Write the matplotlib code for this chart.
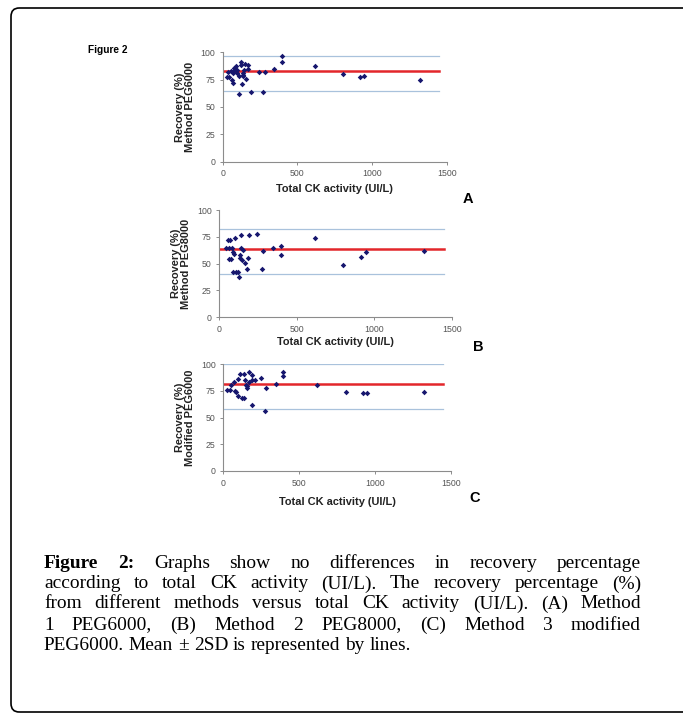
import numpy as np
import matplotlib
matplotlib.use("Agg")
import matplotlib.pyplot as plt
from matplotlib.patches import FancyBboxPatch

# ---- data ----
x_a = [27, 45, 38, 54, 60, 72, 72, 76, 83, 89, 94, 98, 112, 112, 123, 123, 128, 134, 134,
       139, 143, 150, 157, 168, 172, 188, 246, 273, 284, 347, 396, 396, 620, 809, 917, 944, 1324]
y_a = [77, 77, 82, 83, 75, 72, 81, 86, 84, 87, 84, 81, 78, 62, 91, 88, 71, 81, 79,
       78, 84, 89, 76, 88, 85, 64, 82, 64, 82, 85, 97, 91, 87, 80, 77, 78, 75]

x_b = [43, 54, 65, 69, 65, 75, 80, 86, 95, 101, 90, 108, 123, 129, 133, 133, 138, 138,
       144, 155, 166, 176, 187, 194, 245, 273, 284, 344, 396, 396, 618, 800, 917, 944, 1324]
y_b = [64.7, 72.5, 64.7, 72.5, 54.7, 54.7, 64.7, 61, 59.4, 74, 42, 42, 42, 37.5, 57.8, 55.6, 76.6, 64.7,
       53, 63, 51, 44.7, 55.6, 76.3, 77.2, 44.7, 62, 64.7, 66, 57.8, 74, 48.8, 56.5, 60.6, 61.8]

x_c = [27, 45, 54, 72, 76, 83, 94, 98, 112, 123, 134, 139, 143, 150, 157, 157, 168, 172,
       188, 188, 188, 210, 246, 273, 284, 347, 396, 396, 620, 809, 917, 944, 1324]
y_c = [76, 76, 81, 83, 75, 74, 70.6, 86.4, 91, 68, 91, 68, 85, 81, 79.5, 78, 83, 93,
       85, 89.6, 61.5, 85, 87, 56, 78, 81.5, 92.5, 89, 81, 73.8, 73.1, 73.1, 74]

# mean, upper (+2SD), lower (-2SD)
lines_a = [83.3, 96.8, 65.0]
lines_b = [63.4, 82.0, 40.0]
lines_c = [82.0, 100.0, 58.0]

line_span = [0, 1450]
panel_names = ["Method PEG6000", "Method PEG8000", "Modified PEG6000"]
panel_letters = ["A", "B", "C"]

caption = [
    [("Figure", True), ("2:", True), ("Graphs", False), ("show", False), ("no", False),
     ("differences", False), ("in", False), ("recovery", False), ("percentage", False)],
    "according to total CK activity (UI/L). The recovery percentage (%)",
    "from different methods versus total CK activity (UI/L). (A) Method",
    "1 PEG6000, (B) Method 2 PEG8000, (C) Method 3 modified",
    "PEG6000. Mean \u00b1 2SD is represented by lines.",
]

W, H = 683, 713
fig = plt.figure(figsize=(W / 100, H / 100), dpi=100)

# outer rounded frame (runs off the right edge)
frame = FancyBboxPatch((11 / W, 1 - 712 / H), 760 / W, 704 / H,
                       boxstyle="round,pad=0,rounding_size=0.012",
                       transform=fig.transFigure, fill=False,
                       edgecolor="black", linewidth=1.2, clip_on=False)
fig.add_artist(frame)

fig.text(88 / W, 1 - 50 / H, "Figure 2", fontsize=7.3, fontweight="bold",
         family="Liberation Sans", ha="left", va="center")

# axes boxes in pixels: left, top, right, bottom
boxes = [(222.7, 52.3, 446.6, 161.5), (219.3, 210, 451.7, 317.3), (223.3, 364.3, 451, 471)]
letter_pos = [(468, 199), (478, 347), (475, 498)]
label_pads = [4.5, 2.5, 7]

gray = "#8c8c8c"
panels = [(x_a, y_a, lines_a), (x_b, y_b, lines_b), (x_c, y_c, lines_c)]
for i, (xs, ys, lv) in enumerate(panels):
    l, t, r, b = boxes[i]
    ax = fig.add_axes([l / W, 1 - b / H, (r - l) / W, (b - t) / H])
    mean, up, lo = lv
    ax.plot(line_span, [up, up], color="#a9c2dc", lw=0.9, zorder=1)
    ax.plot(line_span, [lo, lo], color="#a9c2dc", lw=0.9, zorder=1)
    ax.plot(line_span, [mean, mean], color="#e3262b", lw=1.8, zorder=2)
    ax.scatter(xs, ys, marker="D", s=8, color="#16166e", zorder=3, linewidths=0)
    ax.set_xlim(0, 1500)
    ax.set_ylim(0, 100)
    ax.set_xticks([0, 500, 1000, 1500])
    ax.set_yticks([0, 25, 50, 75, 100])
    for s in ["top", "right"]:
        ax.spines[s].set_visible(False)
    for s in ["left", "bottom"]:
        ax.spines[s].set_color(gray)
        ax.spines[s].set_linewidth(0.8)
    ax.tick_params(colors=gray, labelcolor="#555555", labelsize=6.3, length=2.5,
                   width=0.7, pad=3)
    for lab in ax.get_xticklabels() + ax.get_yticklabels():
        lab.set_family("Liberation Sans")
    ax.set_xlabel("Total CK activity (UI/L)", fontsize=7.9, fontweight="bold",
                  family="Liberation Sans", color="#222222", labelpad=label_pads[i])
    ax.set_ylabel("Recovery (%)\n" + panel_names[i], fontsize=7.9, fontweight="bold",
                  family="Liberation Sans", color="#222222", labelpad=4, linespacing=1.0)
    lx, ly = letter_pos[i]
    fig.text(lx / W, 1 - ly / H, panel_letters[i], fontsize=10.5, fontweight="bold",
             family="Liberation Sans", ha="center", va="center")

# ---- justified caption ----
renderer = fig.canvas.get_renderer()
left_px, right_px = 44, 641
line_y = [563, 584, 604, 625, 645]


def word_width(word, bold, size):
    t = fig.text(0, 0, word, fontsize=size, family="Liberation Serif",
                 fontweight="bold" if bold else "normal")
    w = t.get_window_extent(renderer).width
    t.remove()
    return w


# pick font size so the last (natural spaced) line ends where it does
probe = fig.text(0, 0, caption[4], fontsize=10, family="Liberation Serif")
w10 = probe.get_window_extent(renderer).width
probe.remove()
fsize = 10.5 * (393 - left_px) / w10

for k, line in enumerate(caption):
    words = line if isinstance(line, list) else [(w, False) for w in line.split()]
    widths = [word_width(w, bd, fsize) for w, bd in words]
    if k < 4:
        gap = (right_px - left_px - sum(widths)) / (len(words) - 1)
    else:
        gap = 0.25 * fsize * 100 / 72
    x = left_px
    for (w, bd), ww in zip(words, widths):
        fig.text(x / W, 1 - line_y[k] / H, w, fontsize=fsize, family="Liberation Serif",
                 fontweight="bold" if bd else "normal", ha="left", va="center")
        x += ww + gap

fig.savefig("out.png", dpi=100)
